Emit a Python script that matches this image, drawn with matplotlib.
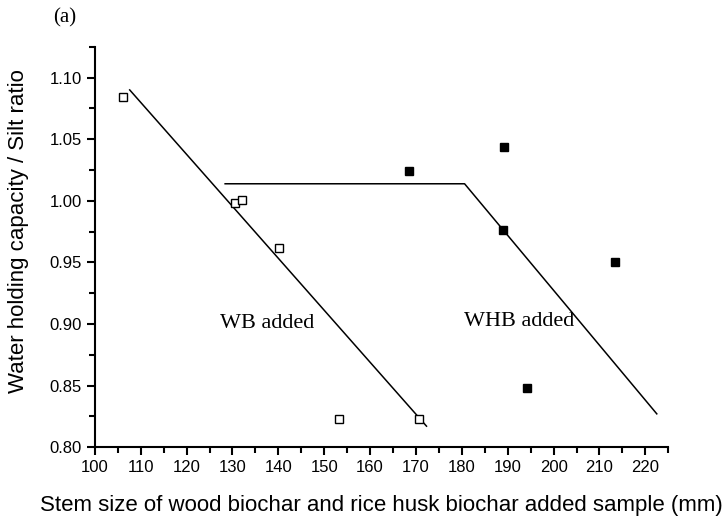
import matplotlib

matplotlib.use("Agg")
import matplotlib.pyplot as plt
from matplotlib.ticker import MultipleLocator, FormatStrFormatter

# WB added (open squares)
wb_x = [106.2, 130.6, 132.0, 140.2, 153.3, 170.6]
wb_y = [1.084, 0.998, 1.001, 0.962, 0.823, 0.823]

# WHB added (filled squares)
whb_x = [168.4, 189.3, 188.9, 213.4, 194.3]
whb_y = [1.024, 1.044, 0.976, 0.950, 0.848]

# fitted trend lines
wb_line_x = [107.6, 172.3]
wb_line_y = [1.090, 0.817]
whb_line_x = [128.4, 180.6, 222.5]
whb_line_y = [1.0138, 1.0138, 0.827]

plt.rcParams["font.family"] = ["Liberation Sans", "DejaVu Sans"]

fig = plt.figure(figsize=(7.24, 5.26), dpi=100)
ax = fig.add_axes([0.131, 0.150, 0.792, 0.761])

ax.plot(wb_line_x, wb_line_y, color="black", lw=1.1)
ax.plot(whb_line_x, whb_line_y, color="black", lw=1.1)
ax.plot(wb_x, wb_y, "s", ms=5.2, mfc="white", mec="black", mew=1.0, ls="none")
ax.plot(whb_x, whb_y, "s", ms=5.8, mfc="black", mec="black", ls="none")

ax.text(137.6, 0.900, "WB added", family="Liberation Serif", fontsize=16,
        ha="center", va="center")
ax.text(192.5, 0.9016, "WHB added", family="Liberation Serif", fontsize=16,
        ha="center", va="center")

ax.set_xlim(100, 225)
ax.set_ylim(0.80, 1.125)
ax.xaxis.set_major_locator(MultipleLocator(10))
ax.xaxis.set_minor_locator(MultipleLocator(5))
ax.yaxis.set_major_locator(MultipleLocator(0.05))
ax.yaxis.set_minor_locator(MultipleLocator(0.025))
ax.yaxis.set_major_formatter(FormatStrFormatter("%.2f"))

ax.spines["top"].set_visible(False)
ax.spines["right"].set_visible(False)
for s in ("left", "bottom"):
    ax.spines[s].set_linewidth(1.5)
ax.tick_params(which="major", direction="out", length=6, width=1.5, labelsize=12)
ax.tick_params(which="minor", direction="out", length=4, width=1.5)

ax.set_xlabel("Stem size of wood biochar and rice husk biochar added sample (mm)",
              fontsize=16, labelpad=14)
ax.set_ylabel("Water holding capacity / Silt ratio", fontsize=16)
ax.yaxis.set_label_coords(-0.115, 0.54)

fig.text(0.073, 0.966, "(a)", family="Liberation Serif", fontsize=15,
         ha="left", va="center")

fig.savefig("out.png", dpi=100)
